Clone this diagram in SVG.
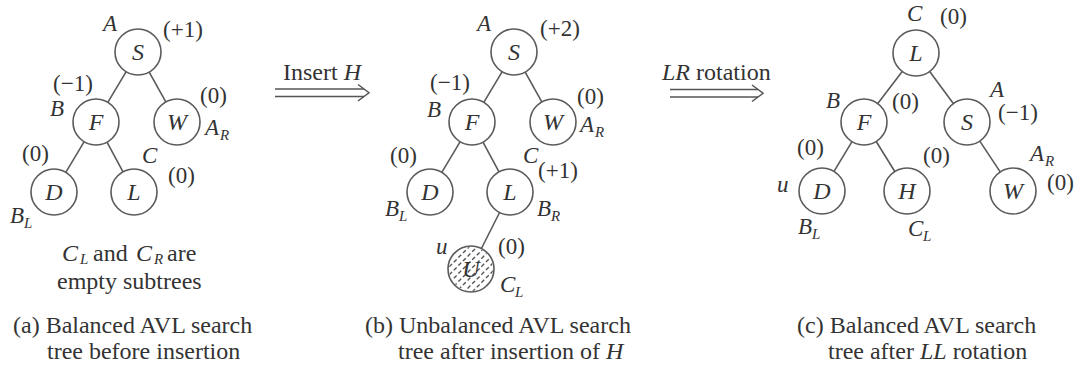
<svg xmlns="http://www.w3.org/2000/svg" width="1078" height="366" viewBox="0 0 1078 366">
  <style>
    text { font-family: "Liberation Serif", "Times New Roman", serif; fill: #333; }
    .lbl { font-size: 23px; }
    .cap { font-size: 24px; }
    .it { font-style: italic; }
    .sub { font-size: 15px; font-style: italic; }
    .node circle { fill: #fff; stroke: #5a5a5a; stroke-width: 1.6; }
    .node text { font-size: 24px; font-style: italic; text-anchor: middle; }
    .edges line { stroke: #5a5a5a; stroke-width: 1.6; }
    .arrow line, .arrow path { stroke: #555; stroke-width: 1.5; fill: none; }
    .hatch line { stroke: #555; stroke-width: 1.4; stroke-dasharray: 4 2.5; }
  </style>
  <defs>
    <clipPath id="u-clip"><circle cx="471" cy="269" r="22"/></clipPath>
  </defs>
  <rect width="1078" height="366" fill="#fff"/>

  <!-- ===== (a) balanced tree before insertion ===== -->
  <g id="edges-a" class="edges">
    <line x1="126.2" y1="71.7" x2="107.8" y2="102.3"/>
    <line x1="149.2" y1="72.1" x2="165.8" y2="101.9"/>
    <line x1="84.2" y1="141.7" x2="65.8" y2="172.3"/>
    <line x1="107" y1="142.2" x2="123" y2="171.8"/>
  </g>
  <g id="a-S" class="node"><circle cx="138" cy="52" r="23"/><text x="138" y="60">S</text></g>
  <g id="a-F" class="node"><circle cx="96" cy="122" r="23"/><text x="96" y="130">F</text></g>
  <g id="a-W" class="node"><circle cx="177" cy="122" r="23"/><text x="177" y="130">W</text></g>
  <g id="a-D" class="node"><circle cx="54" cy="192" r="23"/><text x="54" y="200">D</text></g>
  <g id="a-L" class="node"><circle cx="134" cy="192" r="23"/><text x="134" y="200">L</text></g>
  <g id="labels-a" class="lbl">
    <text x="103" y="31" class="it">A</text>
    <text x="163" y="37">(+1)</text>
    <text x="53" y="91">(−1)</text>
    <text x="50" y="116" class="it">B</text>
    <text x="200" y="103">(0)</text>
    <text x="205" y="135" class="it">A</text><text x="220" y="140" class="sub">R</text>
    <text x="22" y="161">(0)</text>
    <text x="142" y="163" class="it">C</text>
    <text x="168" y="183">(0)</text>
    <text x="10" y="223" class="it">B</text><text x="24" y="228" class="sub">L</text>
  </g>
  <g id="note-a" class="cap">
    <text x="62" y="261" class="it">C</text>
    <text x="80" y="264" class="sub">L</text>
    <text x="93" y="261">and</text>
    <text x="136" y="261" class="it">C</text>
    <text x="154" y="264" class="sub">R</text>
    <text x="167" y="261">are</text>
    <text x="57" y="289">empty subtrees</text>
  </g>
  <text class="cap" x="13" y="333">(a) Balanced AVL search</text>
  <text class="cap" x="47" y="359">tree before insertion</text>

  <!-- ===== arrow: insert H ===== -->
  <g id="arrow-insert" class="arrow">
    <text class="cap" x="283" y="80">Insert <tspan class="it">H</tspan></text>
    <line x1="275" y1="89" x2="364" y2="89"/>
    <line x1="275" y1="96.5" x2="364" y2="96.5"/>
    <path d="M358 84.5 L369 92.75 L358 101"/>
  </g>

  <!-- ===== (b) unbalanced tree after insertion ===== -->
  <g id="edges-b" class="edges">
    <line x1="502.2" y1="71.7" x2="483.8" y2="102.3"/>
    <line x1="525.2" y1="72.1" x2="541.8" y2="101.9"/>
    <line x1="460.2" y1="141.7" x2="441.8" y2="172.3"/>
    <line x1="483" y1="142.2" x2="499" y2="171.8"/>
    <line x1="499.6" y1="212.5" x2="481.4" y2="248.5"/>
  </g>
  <g id="b-S" class="node"><circle cx="514" cy="52" r="23"/><text x="514" y="60">S</text></g>
  <g id="b-F" class="node"><circle cx="472" cy="122" r="23"/><text x="472" y="130">F</text></g>
  <g id="b-W" class="node"><circle cx="553" cy="122" r="23"/><text x="553" y="130">W</text></g>
  <g id="b-D" class="node"><circle cx="430" cy="192" r="23"/><text x="430" y="200">D</text></g>
  <g id="b-L" class="node"><circle cx="510" cy="192" r="23"/><text x="510" y="200">L</text></g>
  <g id="b-U" class="node">
    <circle cx="471" cy="269" r="23"/>
    <!-- hatched fill of the newly inserted node -->
    <g class="hatch" clip-path="url(#u-clip)">
      <line x1="440" y1="268" x2="510" y2="198"/>
      <line x1="440" y1="276" x2="510" y2="206"/>
      <line x1="440" y1="284" x2="510" y2="214"/>
      <line x1="440" y1="292" x2="510" y2="222"/>
      <line x1="440" y1="300" x2="510" y2="230"/>
      <line x1="440" y1="308" x2="510" y2="238"/>
      <line x1="440" y1="316" x2="510" y2="246"/>
      <line x1="440" y1="324" x2="510" y2="254"/>
      <line x1="440" y1="332" x2="510" y2="262"/>
    </g>
    <text x="471" y="277">U</text>
  </g>
  <g id="labels-b" class="lbl">
    <text x="477" y="31" class="it">A</text>
    <text x="540" y="36">(+2)</text>
    <text x="430" y="90">(−1)</text>
    <text x="427" y="117" class="it">B</text>
    <text x="577" y="104">(0)</text>
    <text x="580" y="132" class="it">A</text><text x="595" y="137" class="sub">R</text>
    <text x="390" y="163">(0)</text>
    <text x="523" y="163" class="it">C</text>
    <text x="538" y="178">(+1)</text>
    <text x="385" y="216" class="it">B</text><text x="399" y="221" class="sub">L</text>
    <text x="537" y="216" class="it">B</text><text x="551" y="221" class="sub">R</text>
    <text x="436" y="254" class="it">u</text>
    <text x="498" y="254">(0)</text>
    <text x="500" y="292" class="it">C</text><text x="515" y="297" class="sub">L</text>
  </g>
  <text class="cap" x="365" y="333">(b) Unbalanced AVL search</text>
  <text class="cap" x="398" y="359">tree after insertion of <tspan class="it">H</tspan></text>

  <!-- ===== arrow: LR rotation ===== -->
  <g id="arrow-rotate" class="arrow">
    <text class="cap" x="662" y="80"><tspan class="it">LR</tspan> rotation</text>
    <line x1="670" y1="89.5" x2="758" y2="89.5"/>
    <line x1="670" y1="97" x2="758" y2="97"/>
    <path d="M752 85 L763 93.25 L752 101.5"/>
  </g>

  <!-- ===== (c) balanced tree after rotation ===== -->
  <g id="edges-c" class="edges">
    <line x1="902.2" y1="71.4" x2="877.8" y2="103.6"/>
    <line x1="929.7" y1="71.5" x2="953.3" y2="103.5"/>
    <line x1="852" y1="141.6" x2="834" y2="171.4"/>
    <line x1="876.2" y1="141.5" x2="894.8" y2="171.5"/>
    <line x1="979.8" y1="141.1" x2="1000.2" y2="171.9"/>
  </g>
  <g id="c-L" class="node"><circle cx="916" cy="53" r="23"/><text x="916" y="61">L</text></g>
  <g id="c-F" class="node"><circle cx="864" cy="122" r="23"/><text x="864" y="130">F</text></g>
  <g id="c-S" class="node"><circle cx="967" cy="122" r="23"/><text x="967" y="130">S</text></g>
  <g id="c-D" class="node"><circle cx="822" cy="191" r="23"/><text x="822" y="199">D</text></g>
  <g id="c-H" class="node"><circle cx="907" cy="191" r="23"/><text x="907" y="199">H</text></g>
  <g id="c-W" class="node"><circle cx="1013" cy="191" r="23"/><text x="1013" y="199">W</text></g>
  <g id="labels-c" class="lbl">
    <text x="907" y="21" class="it">C</text>
    <text x="940" y="24">(0)</text>
    <text x="826" y="108" class="it">B</text>
    <text x="892" y="109">(0)</text>
    <text x="990" y="97" class="it">A</text>
    <text x="998" y="120">(−1)</text>
    <text x="797" y="155">(0)</text>
    <text x="923" y="163">(0)</text>
    <text x="1030" y="161" class="it">A</text><text x="1045" y="166" class="sub">R</text>
    <text x="1047" y="190">(0)</text>
    <text x="777" y="192" class="it">u</text>
    <text x="798" y="234" class="it">B</text><text x="812" y="239" class="sub">L</text>
    <text x="908" y="236" class="it">C</text><text x="923" y="241" class="sub">L</text>
  </g>
  <text class="cap" x="797" y="333">(c) Balanced AVL search</text>
  <text class="cap" x="828" y="359">tree after <tspan class="it">LL</tspan> rotation</text>
</svg>
